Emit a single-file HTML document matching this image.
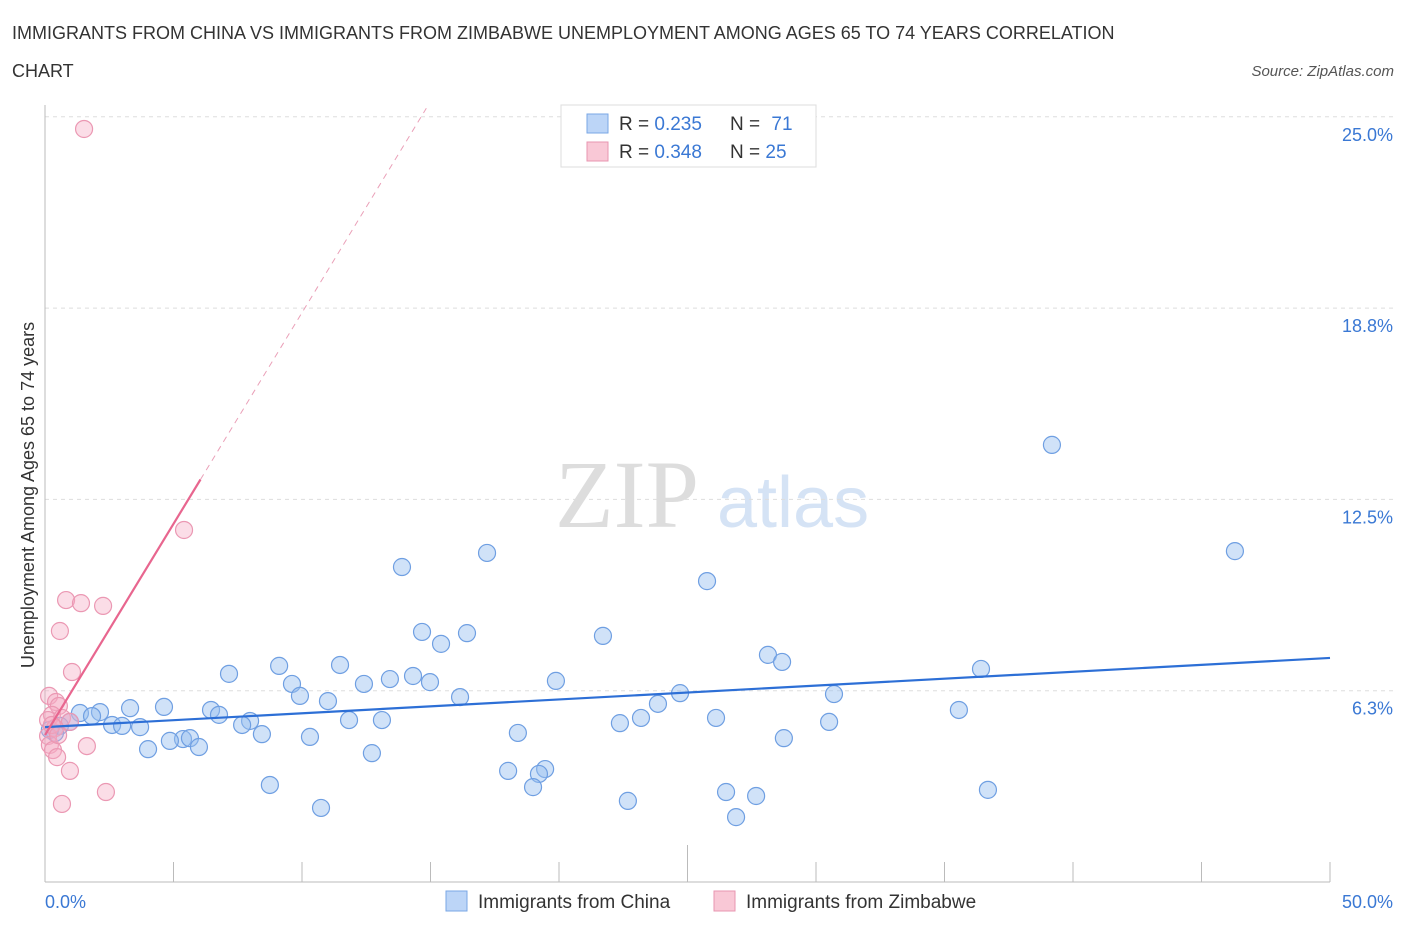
<!DOCTYPE html>
<html><head><meta charset="utf-8"><style>
body{margin:0;background:#fff;font-family:"Liberation Sans",sans-serif;}
svg text{font-family:"Liberation Sans",sans-serif;}
</style></head><body>
<svg id="chart" width="1406" height="930" xmlns="http://www.w3.org/2000/svg">
<text x="12" y="39" font-size="18" fill="#333">IMMIGRANTS FROM CHINA VS IMMIGRANTS FROM ZIMBABWE UNEMPLOYMENT AMONG AGES 65 TO 74 YEARS CORRELATION</text>
<text x="12" y="77" font-size="18" fill="#333">CHART</text>
<text x="1394" y="76" font-size="15" fill="#555" text-anchor="end" font-style="italic">Source: ZipAtlas.com</text>
<text x="555" y="527" font-size="96" fill="#ddd" font-family="Liberation Serif" style="font-family:'Liberation Serif',serif">ZIP</text>
<text x="717" y="527" font-size="72" fill="#d5e3f5">atlas</text>
<text transform="translate(34,495) rotate(-90)" font-size="18" fill="#333" text-anchor="middle">Unemployment Among Ages 65 to 74 years</text>
<g id="grid"></g><g id="pts"></g><g id="lines"></g>
<g>
<rect x="561" y="105" width="255" height="62" fill="#fff" stroke="#ddd"/>
<rect x="587" y="114" width="21" height="19" fill="#bcd5f7" stroke="#7aa7e6"/>
<text x="619" y="130" font-size="19" fill="#333">R = <tspan fill="#3a78d4">0.235</tspan></text>
<text x="730" y="130" font-size="19" fill="#333">N = <tspan fill="#3a78d4" dx="6">71</tspan></text>
<rect x="587" y="142" width="21" height="19" fill="#f9c8d6" stroke="#e896b0"/>
<text x="619" y="158" font-size="19" fill="#333">R = <tspan fill="#3a78d4">0.348</tspan></text>
<text x="730" y="158" font-size="19" fill="#333">N = <tspan fill="#3a78d4">25</tspan></text>
</g>
<g>
<rect x="446" y="891" width="21" height="20" fill="#bcd5f7" stroke="#7aa7e6"/>
<text x="478" y="908" font-size="19" fill="#333">Immigrants from China</text>
<rect x="714" y="891" width="21" height="20" fill="#f9c8d6" stroke="#e896b0"/>
<text x="746" y="908" font-size="19" fill="#333">Immigrants from Zimbabwe</text>
</g>
</svg>
<script>
const blueX=[39.18,46.30,17.20,13.89,25.76,14.67,16.42,21.71,15.41,28.13,28.68,7.16,9.11,11.48,36.42,9.61,12.41,13.42,14.32,14.98,19.88,9.92,11.01,16.15,24.71,30.70,23.85,4.63,3.31,2.14,1.36,1.83,6.46,6.77,35.56,23.19,26.11,11.83,13.11,7.98,7.67,22.37,30.51,2.61,3.00,3.70,0.97,0.58,0.39,0.19,8.44,18.40,10.31,5.37,5.64,4.86,5.99,4.01,28.75,12.72,18.02,19.46,19.22,18.99,8.75,26.50,27.67,22.68,36.69,10.74,26.89];
const blueY=[14.28,10.81,10.75,10.29,9.83,8.17,8.13,8.04,7.78,7.42,7.19,6.80,7.06,7.09,6.96,6.47,6.47,6.63,6.73,6.53,6.57,6.08,5.91,6.04,6.17,6.14,5.82,5.72,5.68,5.55,5.52,5.42,5.62,5.46,5.62,5.36,5.36,5.29,5.29,5.26,5.13,5.19,5.23,5.13,5.10,5.06,5.23,5.10,4.87,4.97,4.83,4.87,4.74,4.67,4.70,4.61,4.41,4.34,4.70,4.21,3.63,3.69,3.53,3.10,3.17,2.94,2.81,2.65,3.01,2.42,2.12];
const pinkX=[1.52,5.41,0.82,1.40,2.26,0.58,1.05,0.16,0.43,0.54,0.27,0.12,0.66,0.97,0.39,0.12,0.19,0.31,0.47,1.63,0.97,2.37,0.66,0.27,0.51];
const pinkY=[24.60,11.50,9.21,9.11,9.02,8.20,6.86,6.08,5.88,5.75,5.46,5.29,5.36,5.23,5.03,4.77,4.48,4.31,4.08,4.44,3.63,2.94,2.55,5.13,4.80];
const yTicks=[6.25,12.5,18.75,25];
const yTickLabels=["6.3%","12.5%","18.8%","25.0%"];
const xTickVals=[0,5,10,15,20,25,30,35,40,45,50];
const blueTrend=[5.06,7.32]; // y at x=0 and x=50
const pinkTrend=[4.8,1.38];  // intercept, slope
const NS="http://www.w3.org/2000/svg";
const sx=v=>45+v*25.7, sy=v=>882-v*30.61;
function mk(t,a,p){const e=document.createElementNS(NS,t);for(const k in a)e.setAttribute(k,a[k]);p.appendChild(e);return e;}
const grid=document.getElementById('grid');
yTicks.forEach((t,i)=>{
 const l=mk('line',{x1:45,x2:1394,y1:sy(t),y2:sy(t),stroke:'#ddd','stroke-dasharray':'4,4'},grid);
 
 
 const tx=mk('text',{x:1393,y:sy(t)+24,'font-size':18,fill:'#3a78d4','text-anchor':'end'},grid);
 tx.textContent=yTickLabels[i];
 
 
});
const ax=mk('line',{x1:45,x2:1330,y1:882,y2:882,stroke:'#bbb'},grid);


const ay=mk('line',{x1:45,x2:45,y1:105,y2:882,stroke:'#bbb'},grid);


xTickVals.forEach((v,i)=>{
 const t=mk('line',{x1:sx(v),x2:sx(v),y1:(i%5==0&&i>0&&i<10)?845:862,y2:882,stroke:'#bbb'},grid);
 
 
});
const xl0=mk('text',{x:45,y:908,'font-size':18,fill:'#3a78d4'},grid);xl0.textContent='0.0%';


const xl1=mk('text',{x:1393,y:908,'font-size':18,fill:'#3a78d4','text-anchor':'end'},grid);xl1.textContent='50.0%';


const pts=document.getElementById('pts');
blueX.forEach((x,i)=>{
 const c=mk('circle',{cx:sx(x),cy:sy(blueY[i]),r:8.5,fill:'rgba(150,190,240,0.45)',stroke:'#6f9fe2','stroke-width':1.2},pts);
 
 
});
pinkX.forEach((x,i)=>{
 const c=mk('circle',{cx:sx(x),cy:sy(pinkY[i]),r:8.5,fill:'rgba(246,170,196,0.4)',stroke:'#eb98b3','stroke-width':1.2},pts);
 
 
});
const lines=document.getElementById('lines');
const bl=mk('line',{x1:sx(0),y1:sy(blueTrend[0]),x2:sx(50),y2:sy(blueTrend[1]),stroke:'#2d6fd6','stroke-width':2.2},lines);


const pEnd=6.05, pTop=(25-pinkTrend[0])/pinkTrend[1];
const pl=mk('line',{x1:sx(0),y1:sy(pinkTrend[0]),x2:sx(pEnd),y2:sy(pinkTrend[0]+pinkTrend[1]*pEnd),stroke:'#e8668f','stroke-width':2.2},lines);


const pd=mk('line',{x1:sx(pEnd),y1:sy(pinkTrend[0]+pinkTrend[1]*pEnd),x2:sx(pTop+0.2),y2:sy(25+0.2*pinkTrend[1]),stroke:'#eaa0b8','stroke-width':1,'stroke-dasharray':'6,5'},lines);


</script>
</body></html>
